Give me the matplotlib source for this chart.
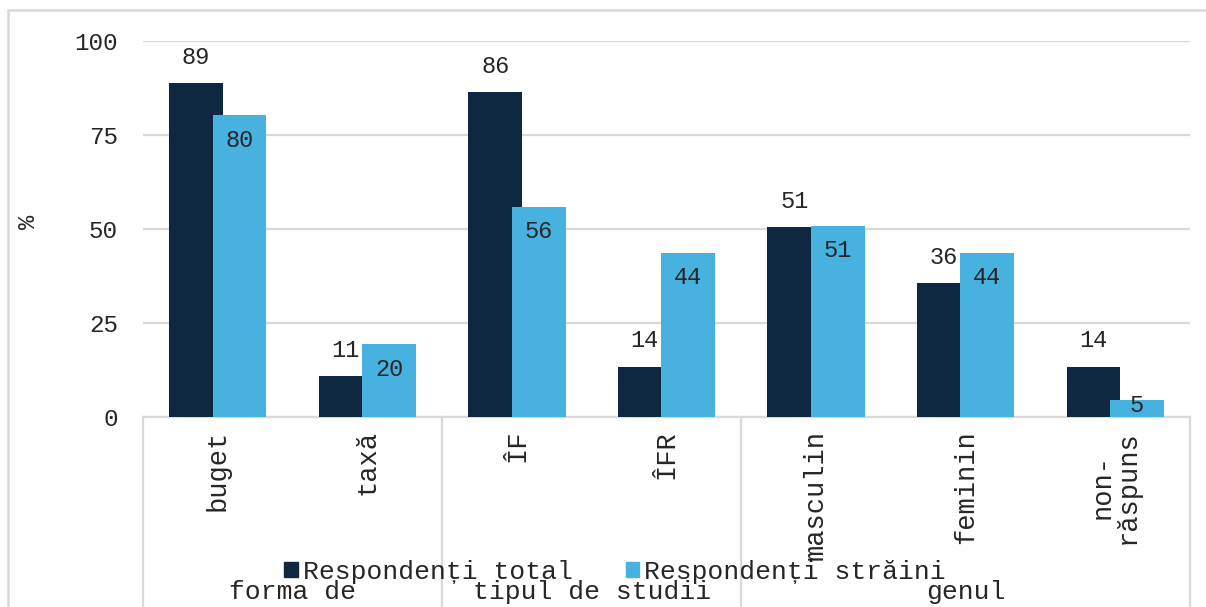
import matplotlib
matplotlib.use("Agg")
import matplotlib.pyplot as plt
import matplotlib.transforms as mtransforms
from matplotlib.patches import Patch, Rectangle

categories = ["buget", "taxă", "ÎF", "ÎFR", "masculin", "feminin", "non-\nrăspuns"]
totalValues = [88.8, 10.9, 86.4, 13.4, 50.4, 35.6, 13.4]
foreignValues = [80.3, 19.4, 55.9, 43.7, 50.9, 43.7, 4.6]
totalLabels = ["89", "11", "86", "14", "51", "36", "14"]
foreignLabels = ["80", "20", "56", "44", "51", "44", "5"]
groups = ["forma de", "tipul de studii", "genul"]
groupSpans = [(0, 1), (2, 3), (4, 6)]
seriesNames = ["Respondenți total", "Respondenți străini"]
yTicks = [0, 25, 50, 75, 100]

darkColor = "#0F2841"
lightColor = "#47B1E0"
gridColor = "#D9D9D9"
textColor = "#262626"
mono = "Liberation Mono"

W, H = 1206, 607
fig = plt.figure(figsize=(W / 100, H / 100), dpi=100)
axLeft, axRight, axTop, axBottom = 143, 1190, 41, 417
ax = fig.add_axes([axLeft / W, 1 - axBottom / H, (axRight - axLeft) / W, (axBottom - axTop) / H])

x = list(range(len(categories)))
barWidth = 0.36
ax.bar([i - 0.145 for i in x], totalValues, width=barWidth, color=darkColor, zorder=2)
ax.bar([i + 0.145 for i in x], foreignValues, width=barWidth, color=lightColor, zorder=3)

pxPerUnit = (axBottom - axTop) / 100
for i in x:
    ax.text(i - 0.145, totalValues[i] + 26 / pxPerUnit, totalLabels[i], ha="center", va="center",
            fontsize=17, family=mono, color=textColor, zorder=4)
    yLab = max(foreignValues[i] - 25 / pxPerUnit, 12 / pxPerUnit)
    ax.text(i + 0.145, yLab, foreignLabels[i], ha="center", va="center",
            fontsize=17, family=mono, color=textColor, zorder=4)

ax.set_xlim(-0.5, len(categories) - 0.5)
ax.set_ylim(0, 100)
ax.set_yticks(yTicks)
ax.set_yticklabels([str(t) for t in yTicks], family=mono, fontsize=17.5, color=textColor)
ax.tick_params(axis="y", length=0, pad=18)
ax.set_xticks([])
ax.grid(axis="y", color=gridColor, linewidth=1.6, zorder=0)
for side in ["top", "right", "left"]:
    ax.spines[side].set_visible(False)
ax.spines["bottom"].set_color(gridColor)
ax.spines["bottom"].set_linewidth(1.6)
ax.spines["bottom"].set_zorder(1)

axH = axBottom - axTop
trans = mtransforms.blended_transform_factory(ax.transData, ax.transAxes)
for i, name in enumerate(categories):
    ax.text(i, -13 / axH, name, rotation=90, ha="center", va="top", multialignment="center",
            transform=trans, family=mono, fontsize=19.5, color=textColor, linespacing=0.95)

for sep in [-0.5, 1.5, 3.5, len(categories) - 0.5]:
    ax.plot([sep, sep], [0, -0.6], transform=trans, color=gridColor, linewidth=1.6, clip_on=False)

for name, (a, b) in zip(groups, groupSpans):
    ax.text((a + b) / 2, -(592 - axBottom) / axH, name, ha="center", va="center",
            transform=trans, family=mono, fontsize=19, color=textColor)

ax.set_ylabel("%", family=mono, fontsize=17, color=textColor)
ax.yaxis.set_label_coords((40 - axLeft) / (axRight - axLeft), 0.52)

handles = [Patch(color=darkColor), Patch(color=lightColor)]
fig.legend(handles, seriesNames, loc="center", bbox_to_anchor=(615 / W, 1 - 572 / H), ncol=2,
           frameon=False, prop={"family": mono, "size": 19}, handlelength=0.5, handleheight=0.5,
           handletextpad=0.2, columnspacing=2.0, labelcolor=textColor)

fig.patches.append(Rectangle((8 / W, -0.1), 1.2, 1.1 - 10 / H, transform=fig.transFigure,
                             fill=False, edgecolor=gridColor, linewidth=1.8))

fig.savefig("out.png", dpi=100)
